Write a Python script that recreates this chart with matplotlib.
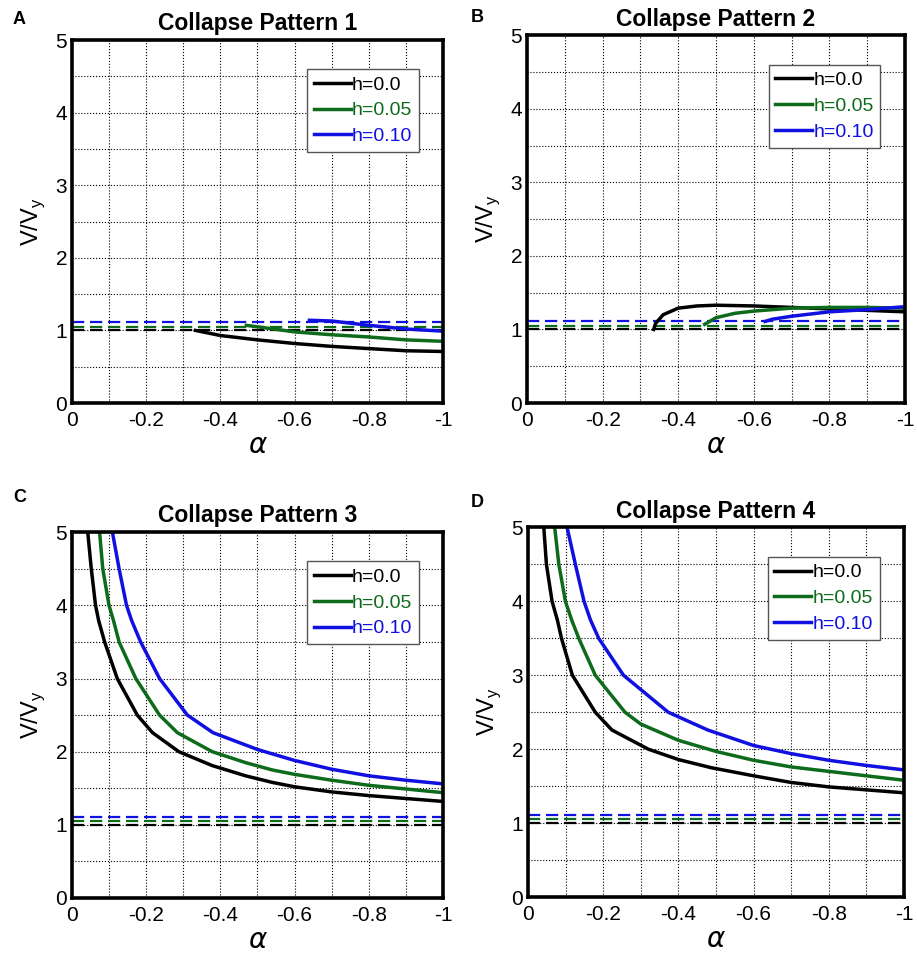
import matplotlib.pyplot as plt
from matplotlib.ticker import MultipleLocator, FixedLocator, FixedFormatter

plt.rcParams['font.family'] = ['Liberation Sans', 'DejaVu Sans']

c_black = 'black'
c_green = '#0e6b1c'
c_blue = '#1010e0'
labels = ['h=0.0', 'h=0.05', 'h=0.10']
colors = [c_black, c_green, c_blue]
dash_levels = [1.0, 1.05, 1.11]
x_ticks = [0, -0.2, -0.4, -0.6, -0.8, -1.0]
x_ticklabels = ['0', '-0.2', '-0.4', '-0.6', '-0.8', '-1']

# Collapse pattern 1
p1_x = [[-0.333, -0.4, -0.5, -0.6, -0.7, -0.8, -0.9, -1.0],
        [-0.47, -0.5, -0.6, -0.7, -0.8, -0.9, -1.0],
        [-0.64, -0.7, -0.8, -0.9, -1.0]]
p1_y = [[1.0, 0.93, 0.87, 0.82, 0.78, 0.75, 0.72, 0.71],
        [1.07, 1.05, 0.98, 0.94, 0.91, 0.87, 0.85],
        [1.14, 1.13, 1.07, 1.02, 0.99]]

# Collapse pattern 2
p2_x = [[-0.335, -0.34, -0.36, -0.4, -0.45, -0.5, -0.6, -0.7, -0.8, -0.9, -1.0],
        [-0.47, -0.5, -0.55, -0.6, -0.7, -0.8, -0.9, -1.0],
        [-0.63, -0.65, -0.7, -0.8, -0.9, -1.0]]
p2_y = [[1.0, 1.08, 1.2, 1.29, 1.32, 1.33, 1.32, 1.30, 1.28, 1.26, 1.24],
        [1.07, 1.16, 1.22, 1.25, 1.29, 1.30, 1.30, 1.29],
        [1.11, 1.14, 1.18, 1.24, 1.27, 1.31]]

# Collapse pattern 3
p3_x = [[-0.0425, -0.052, -0.0635, -0.072, -0.088, -0.122, -0.176, -0.217, -0.288, -0.378, -0.468,
         -0.54, -0.6, -0.7, -0.8, -0.9, -1.0],
        [-0.0744, -0.083, -0.0998, -0.112, -0.127, -0.172, -0.236, -0.284, -0.378, -0.468, -0.54,
         -0.6, -0.7, -0.8, -0.9, -1.0],
        [-0.109, -0.127, -0.147, -0.161, -0.185, -0.236, -0.311, -0.38, -0.5, -0.6, -0.7,
         -0.8, -0.9, -1.0]]
p3_y = [[5.0, 4.5, 4.0, 3.79, 3.5, 3.0, 2.5, 2.26, 2.0, 1.81, 1.67, 1.58, 1.52, 1.45, 1.40, 1.36, 1.32],
        [5.0, 4.5, 4.0, 3.79, 3.5, 3.0, 2.5, 2.26, 2.0, 1.85, 1.75, 1.69, 1.61, 1.54, 1.49, 1.44],
        [5.0, 4.5, 4.0, 3.79, 3.5, 3.0, 2.5, 2.26, 2.03, 1.88, 1.76, 1.67, 1.61, 1.56]]

# Collapse pattern 4
p4_x = [[-0.042, -0.049, -0.064, -0.078, -0.089, -0.118, -0.179, -0.223, -0.32, -0.4, -0.487,
         -0.6, -0.7, -0.8, -0.9, -1.0],
        [-0.071, -0.082, -0.0995, -0.116, -0.135, -0.179, -0.258, -0.3, -0.4, -0.5, -0.6,
         -0.7, -0.8, -0.9, -1.0],
        [-0.104, -0.126, -0.149, -0.166, -0.188, -0.254, -0.373, -0.478, -0.6, -0.7, -0.8, -0.9, -1.0]]
p4_y = [[5.0, 4.5, 4.0, 3.75, 3.5, 3.0, 2.5, 2.26, 2.0, 1.86, 1.75, 1.64, 1.55, 1.49, 1.45, 1.41],
        [5.0, 4.5, 4.0, 3.75, 3.5, 3.0, 2.5, 2.34, 2.12, 1.97, 1.85, 1.76, 1.70, 1.64, 1.58],
        [5.0, 4.5, 4.0, 3.75, 3.5, 3.0, 2.5, 2.26, 2.05, 1.94, 1.85, 1.78, 1.72]]

panels = [
    ('A', 'Collapse Pattern 1', p1_x, p1_y, [0.0785, 0.578, 0.4046, 0.380], (13, 20)),
    ('B', 'Collapse Pattern 2', p2_x, p2_y, [0.5747, 0.578, 0.4122, 0.385], (471, 18)),
    ('C', 'Collapse Pattern 3', p3_x, p3_y, [0.0785, 0.0597, 0.4046, 0.383], (13, 497)),
    ('D', 'Collapse Pattern 4', p4_x, p4_y, [0.5758, 0.0607, 0.4100, 0.387], (471, 502)),
]

W, H = 917, 955
fig = plt.figure(figsize=(W / 100, H / 100), dpi=100)

for letter, title, xs, ys, rect, lpos in panels:
    ax = fig.add_axes(rect)
    for lvl, col in zip(dash_levels, colors):
        ax.axhline(lvl, color=col, linestyle='--', linewidth=1.6, dashes=(5.5, 2.6))
    handles = []
    for x, y, col, lab in zip(xs, ys, colors, labels):
        ln, = ax.plot(x, y, color=col, linewidth=2.5, label=lab, solid_joinstyle='round')
        handles.append(ln)
    ax.set_xlim(0, -1)
    ax.set_ylim(0, 5)
    ax.xaxis.set_major_locator(FixedLocator(x_ticks))
    ax.xaxis.set_major_formatter(FixedFormatter(x_ticklabels))
    ax.xaxis.set_minor_locator(MultipleLocator(0.1))
    ax.yaxis.set_major_locator(MultipleLocator(1))
    ax.yaxis.set_minor_locator(MultipleLocator(0.5))
    ax.grid(True, which='both', color='black', linestyle=':', linewidth=0.8)
    ax.tick_params(which='both', direction='in', length=0, labelsize=15)
    ax.tick_params(axis='x', pad=6)
    for s in ax.spines.values():
        s.set_linewidth(2.6)
    ax.set_xlabel(r'$\alpha$', fontsize=20, labelpad=2)
    ax.set_ylabel(r'V/V$_\mathregular{y}$', fontsize=17, labelpad=6)
    ax.set_title(title, fontsize=16.5, fontweight='bold', pad=7)
    fig.text(lpos[0] / W, 1 - lpos[1] / H, letter, fontsize=13, fontweight='bold',
             ha='left', va='center')
    leg = ax.legend(handles=handles, loc='upper right', bbox_to_anchor=(0.935, 0.92),
                    borderaxespad=0, fontsize=14, handlelength=1.9, handletextpad=0.05,
                    borderpad=0.35, labelspacing=0.42, fancybox=False,
                    edgecolor='#555555', framealpha=1)
    leg.get_frame().set_linewidth(1.0)
    for t, col in zip(leg.get_texts(), colors):
        t.set_color(col)

fig.savefig('out.png', dpi=100)
